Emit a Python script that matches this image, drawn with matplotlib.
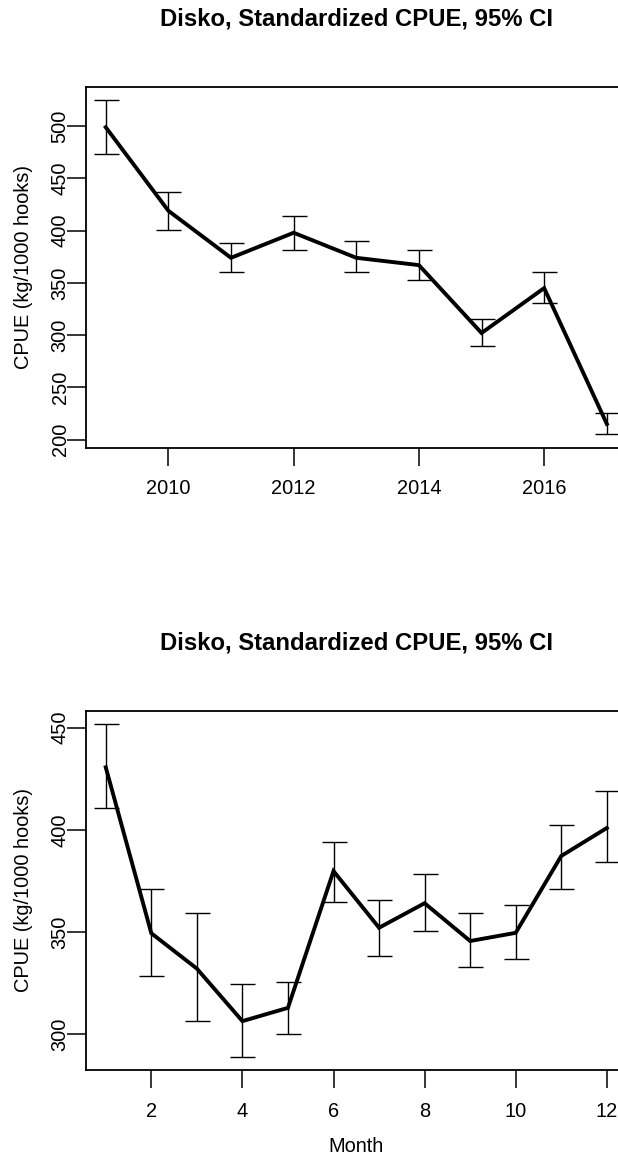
import numpy as np
import matplotlib
matplotlib.use('Agg')
import matplotlib.pyplot as plt
import matplotlib.pylab as pylab

# standardized CPUE by year, with 95% CI
years = [2009, 2010, 2011, 2012, 2013, 2014, 2015, 2016, 2017]
cpue_year = [499, 419, 374, 398, 374, 367, 302, 345, 215]
lo_year = [473, 401, 360, 381, 360, 353, 290, 331, 205]
hi_year = [525, 437, 388, 414, 390, 381, 315, 360, 225]

# standardized CPUE by month, with 95% CI
months = [1, 2, 3, 4, 5, 6, 7, 8, 9, 10, 11, 12]
cpue_month = [430.6, 349.4, 332.1, 306.4, 312.9, 379.8, 352.1, 364.1, 345.6, 349.6, 387.2, 400.9]
lo_month = [410.6, 328.4, 306.5, 289.0, 300.0, 364.8, 338.4, 350.5, 332.9, 336.6, 371.2, 384.2]
hi_month = [451.8, 371.2, 359.3, 324.6, 325.7, 394.0, 365.7, 378.5, 359.3, 363.1, 402.2, 419.1]

title = 'Disko, Standardized CPUE, 95% CI'
ylab = 'CPUE (kg/1000 hooks)'

myparams = {
'font.family' : ['Liberation Sans', 'DejaVu Sans'],
'font.size' : '14.4',
'xtick.labelsize' : '14.4',
'ytick.labelsize' : '14.4',
'xtick.direction' : 'out',
'ytick.direction' : 'out',
'xtick.major.size' : '13',
'ytick.major.size' : '13.5',
'xtick.major.width' : '1.1',
'ytick.major.width' : '1.1',
'xtick.major.pad' : '9.8',
'ytick.major.pad' : '-2',
'axes.linewidth' : '1.3',
}
pylab.rcParams.update(myparams)

fig = plt.figure(figsize=(6.18, 11.58), dpi=100)
ax1 = fig.add_axes([0.1387, 0.6134, 0.8756, 0.3117])
ax2 = fig.add_axes([0.1387, 0.0760, 0.8756, 0.3103])


def cpue_panel(ax, x, y, lo, hi):
    y = np.array(y)
    err = [y - np.array(lo), np.array(hi) - y]
    ax.errorbar(x, y, yerr=err, fmt='none', ecolor='black',
                elinewidth=1.0, capsize=9, capthick=1.0)
    ax.plot(x, y, color='black', linewidth=2.8, solid_joinstyle='miter')
    # R style 4% padding on both axes
    ax.margins(0.04)
    ax.set_title(title, fontsize=17.2, fontweight='bold', pad=44)
    ax.set_ylabel(ylab, fontsize=14.4)
    ax.spines['right'].set_visible(False)


cpue_panel(ax1, years, cpue_year, lo_year, hi_year)
ax1.set_xticks([2010, 2012, 2014, 2016])
ax1.set_yticks([200, 250, 300, 350, 400, 450, 500])
ax1.yaxis.set_label_coords(-0.098, 0.5)
plt.setp(ax1.get_yticklabels(), rotation=90, va='center')

cpue_panel(ax2, months, cpue_month, lo_month, hi_month)
ax2.set_xticks([2, 4, 6, 8, 10, 12])
ax2.set_yticks([300, 350, 400, 450])
ax2.yaxis.set_label_coords(-0.098, 0.5)
plt.setp(ax2.get_yticklabels(), rotation=90, va='center')
ax2.set_xlabel('Month', fontsize=14.4)
ax2.xaxis.set_label_coords(0.5, -0.1865)

fig.savefig('out.png', dpi=100)
plt.close()
